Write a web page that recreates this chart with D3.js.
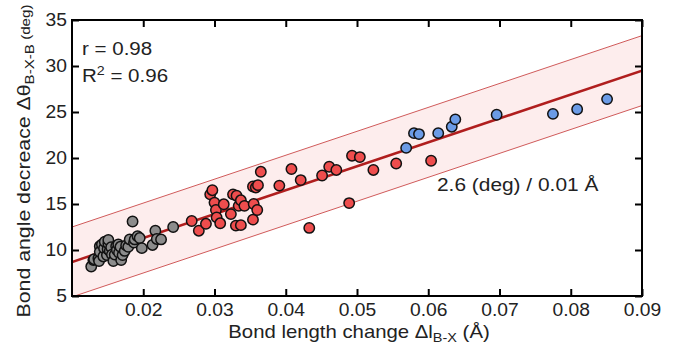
<!DOCTYPE html>
<html>
<head>
<meta charset="utf-8">
<script src="https://cdn.jsdelivr.net/npm/d3@7"></script>
<style>
  body { margin: 0; background: #fff; }
  svg { font-family: "Liberation Sans", Arial, sans-serif; }
</style>
</head>
<body>
<div id="chart"></div>
<script>
// 数据
const grayX = [0.0127, 0.0130, 0.0131, 0.0137, 0.0138, 0.0139, 0.0139, 0.0142, 0.0144, 0.0145, 0.0146, 0.0149, 0.0150, 0.0151, 0.0151, 0.0153, 0.0155, 0.0156, 0.0158, 0.0160, 0.0162, 0.0163, 0.0165, 0.0166, 0.0168, 0.0169, 0.0171, 0.0174, 0.0176, 0.0179, 0.0181, 0.0185, 0.0187, 0.0188, 0.0192, 0.0195, 0.0198, 0.0213, 0.0217, 0.0219, 0.0225, 0.0242];
const grayY = [8.2, 8.9, 9.0, 9.1, 8.8, 10.4, 9.8, 10.6, 9.3, 10.2, 10.9, 9.45, 10.1, 10.7, 11.1, 9.9, 10.3, 9.5, 8.8, 9.5, 10.4, 10.0, 10.6, 9.7, 10.35, 8.9, 9.45, 9.9, 10.5, 10.35, 11.15, 13.1, 10.8, 11.15, 11.5, 11.3, 10.2, 10.55, 12.1, 11.2, 11.15, 12.5];

const redX = [0.0268, 0.0278, 0.0288, 0.0294, 0.0297, 0.0300, 0.0302, 0.0303, 0.0308, 0.0313, 0.0323, 0.0326, 0.0331, 0.0334, 0.0337, 0.0342, 0.0330, 0.0337, 0.0354, 0.0355, 0.0360, 0.0354, 0.0358, 0.0361, 0.0365, 0.0391, 0.0408, 0.0421, 0.0433, 0.0451, 0.0461, 0.0471, 0.0489, 0.0493, 0.0504, 0.0523, 0.0555, 0.0604];
const redY = [13.15, 12.1, 12.85, 16.05, 16.5, 15.15, 14.35, 13.55, 12.9, 14.97, 13.9, 16.05, 15.9, 14.8, 15.4, 14.8, 12.65, 12.7, 13.3, 15.0, 14.35, 16.9, 16.8, 17.05, 18.5, 17.0, 18.8, 17.6, 12.4, 18.1, 19.05, 18.7, 15.1, 20.25, 20.1, 18.7, 19.4, 19.7];

const blueX = [0.0569, 0.0580, 0.0587, 0.0614, 0.0633, 0.0638, 0.0696, 0.0775, 0.0809, 0.0851];
const blueY = [21.1, 22.7, 22.6, 22.7, 23.4, 24.2, 24.7, 24.8, 25.3, 26.4];

const xTicks = [0.02, 0.03, 0.04, 0.05, 0.06, 0.07, 0.08, 0.09];
const yTicks = [5, 10, 15, 20, 25, 30, 35];

// 拟合线: 2.6 (deg) / 0.01 Å，带宽 ±3.8
const fitSlope = 260;
const fitIntercept = 6.1;
const bandHalf = 3.8;

const width = 681, height = 350;
const margin = { top: 20, right: 39, bottom: 54, left: 72 };
const innerW = width - margin.left - margin.right;
const innerH = height - margin.top - margin.bottom;

// 原图字体偏宽，按比例横向拉伸文字
function stretch(sel, k) {
  sel.each(function () {
    const w = this.getComputedTextLength();
    if (w > 0) {
      this.setAttribute('textLength', w * k);
      this.setAttribute('lengthAdjust', 'spacingAndGlyphs');
    }
  });
}

const svg = d3.select('#chart')
  .append('svg')
  .attr('width', width)
  .attr('height', height);

const g = svg.append('g')
  .attr('transform', `translate(${margin.left},${margin.top})`);

const x = d3.scaleLinear().domain([0.01, 0.09]).range([0, innerW]);
const y = d3.scaleLinear().domain([5, 35]).range([innerH, 0]);

// 裁剪区域
svg.append('defs').append('clipPath')
  .attr('id', 'clip')
  .append('rect')
  .attr('width', innerW)
  .attr('height', innerH);

const plot = g.append('g').attr('clip-path', 'url(#clip)');

const xs = x.domain();
const fit = v => fitIntercept + fitSlope * v;

// 置信带
const band = d3.area()
  .x(d => x(d))
  .y0(d => y(fit(d) - bandHalf))
  .y1(d => y(fit(d) + bandHalf));

plot.append('path')
  .datum(xs)
  .attr('d', band)
  .attr('fill', '#fdeded');

const line = d3.line().x(d => x(d[0])).y(d => y(d[1]));

[bandHalf, -bandHalf].forEach(off => {
  plot.append('path')
    .datum(xs.map(v => [v, fit(v) + off]))
    .attr('d', line)
    .attr('fill', 'none')
    .attr('stroke', '#d05a5a')
    .attr('stroke-width', 1);
});

plot.append('path')
  .datum(xs.map(v => [v, fit(v)]))
  .attr('d', line)
  .attr('fill', 'none')
  .attr('stroke', '#b01e1e')
  .attr('stroke-width', 2.5);

// 散点
function drawPoints(xv, yv, color) {
  plot.append('g')
    .selectAll('circle')
    .data(xv.map((v, i) => [v, yv[i]]))
    .enter()
    .append('circle')
    .attr('cx', d => x(d[0]))
    .attr('cy', d => y(d[1]))
    .attr('r', 5.2)
    .attr('fill', color)
    .attr('stroke', '#111')
    .attr('stroke-width', 1.5);
}

drawPoints(grayX, grayY, '#8c8c8c');
drawPoints(redX, redY, '#ee4d4d');
drawPoints(blueX, blueY, '#6b9be6');

// 坐标轴（刻度朝内）
const tickLen = 7;
g.append('g')
  .attr('transform', `translate(0,${innerH})`)
  .call(d3.axisBottom(x).tickValues(xTicks).tickSize(-tickLen).tickPadding(8).tickFormat(d3.format('.2f')));
g.append('g')
  .call(d3.axisLeft(y).tickValues(yTicks).tickSize(-tickLen).tickPadding(5).tickFormat(d3.format('d')));
g.append('g')
  .call(d3.axisTop(x).tickValues(xTicks).tickSize(-tickLen).tickFormat(''));
g.append('g')
  .attr('transform', `translate(${innerW},0)`)
  .call(d3.axisRight(y).tickValues(yTicks).tickSize(-tickLen).tickFormat(''));

g.selectAll('.domain').remove();
g.selectAll('.tick line').attr('stroke', '#000').attr('stroke-width', 2);
g.selectAll('.tick text').attr('font-size', 17.5).attr('fill', '#222');
stretch(g.selectAll('.tick text'), 1.1);

g.append('rect')
  .attr('width', innerW)
  .attr('height', innerH)
  .attr('fill', 'none')
  .attr('stroke', '#000')
  .attr('stroke-width', 2);

// 文字注释
const ann = g.append('g').attr('font-size', 18).attr('fill', '#222');
const r1 = ann.append('text').attr('x', 10).attr('y', 35).text('r = 0.98');
stretch(r1, 1.14);
const r2 = ann.append('text').attr('x', 10).attr('y', 62);
r2.append('tspan').text('R');
r2.append('tspan').attr('font-size', 12.5).attr('dy', -7).text('2');
r2.append('tspan').attr('dy', 7).text(' = 0.96');
stretch(r2.selectAll('tspan'), 1.14);

const slopeText = ann.append('text')
  .attr('x', 365)
  .attr('y', 171)
  .text('2.6 (deg) / 0.01 Å');
stretch(slopeText, 1.16);

// 轴标题
const xl = svg.append('text')
  .attr('x', 359)
  .attr('y', 338)
  .attr('text-anchor', 'middle')
  .attr('font-size', 19)
  .attr('fill', '#222');
xl.append('tspan').text('Bond length change Δl');
xl.append('tspan').attr('font-size', 13.5).attr('dy', 4).text('B-X');
xl.append('tspan').attr('dy', -4).text(' (Å)');
stretch(xl.selectAll('tspan'), 1.07);

const yl = svg.append('text')
  .attr('transform', 'translate(30,161) rotate(-90)')
  .attr('text-anchor', 'middle')
  .attr('font-size', 19)
  .attr('fill', '#222');
yl.append('tspan').text('Bond angle decreace Δθ');
yl.append('tspan').attr('font-size', 13.5).attr('dy', 4).text('B-X-B');
yl.append('tspan').attr('font-size', 13.5).attr('dy', -4).text(' (deg)');
stretch(yl.selectAll('tspan'), 1.12);
</script>
</body>
</html>
